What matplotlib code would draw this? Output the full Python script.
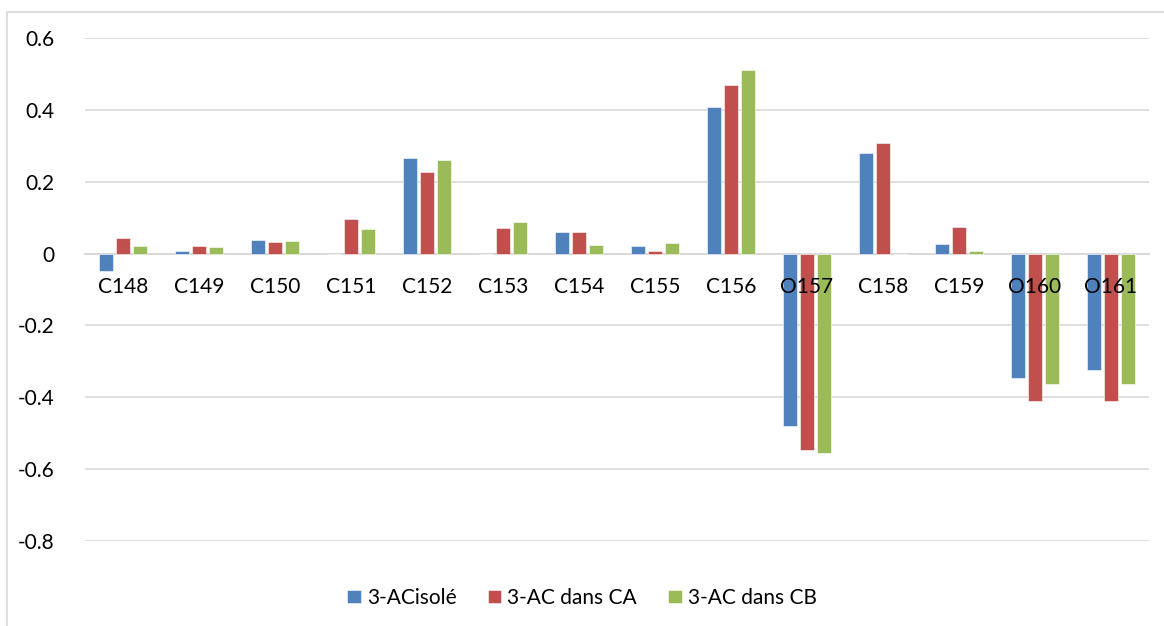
import matplotlib.pyplot as plt
import matplotlib.patches as patches
import numpy as np

atoms = ["C148", "C149", "C150", "C151", "C152", "C153", "C154",
         "C155", "C156", "O157", "C158", "C159", "O160", "O161"]
isole = [-0.049, 0.008, 0.037, 0.0, 0.265, 0.0, 0.061,
         0.021, 0.407, -0.481, 0.280, 0.027, -0.345, -0.324]
dans_ca = [0.042, 0.021, 0.031, 0.096, 0.226, 0.072, 0.061,
           0.006, 0.469, -0.546, 0.307, 0.075, -0.411, -0.409]
dans_cb = [0.021, 0.017, 0.036, 0.069, 0.261, 0.087, 0.023,
           0.029, 0.510, -0.556, 0.0, 0.008, -0.363, -0.363]
series = ["3-ACisolé", "3-AC dans CA", "3-AC dans CB"]
colors = ["#4F81BD", "#C0504D", "#9BBB59"]

plt.rcParams['font.family'] = ['Lato', 'DejaVu Sans']
plt.rcParams['font.size'] = 15

fig = plt.figure(figsize=(11.64, 6.26), dpi=100)
ax = fig.add_axes([0.073, 0.1358, 0.9141, 0.8035])

# light chart frame
fig.patches.append(patches.Rectangle((7 / 1164, -0.1), 1.2, 1 - 12 / 626 + 0.1,
                                     transform=fig.transFigure, fill=False,
                                     edgecolor="#D9D9D9", linewidth=1.2))

x = np.arange(len(atoms))
w = 0.185
step = 0.222
for i, (vals, name, c) in enumerate(zip([isole, dans_ca, dans_cb], series, colors)):
    ax.bar(x + (i - 1) * step, vals, w, color=c, label=name,
           edgecolor="white", linewidth=0.4, zorder=3)

ax.set_xlim(-0.5, len(atoms) - 0.5)
ax.set_ylim(-0.8, 0.6)
yt = [0.6, 0.4, 0.2, 0, -0.2, -0.4, -0.6, -0.8]
ax.set_yticks(yt)
ax.set_yticklabels(["{:g}".format(v) for v in yt])
ax.grid(axis="y", color="#D9D9D9", linewidth=1.2, zorder=0)

ax.set_xticks(x)
ax.set_xticklabels(atoms)
ax.xaxis.set_zorder(5)  # category names sit on top of the negative bars
ax.spines['bottom'].set_position(('data', 0))
ax.spines['bottom'].set_color("#D9D9D9")
ax.spines['bottom'].set_linewidth(1.4)
ax.spines['bottom'].set_zorder(2)
for s in ['top', 'right', 'left']:
    ax.spines[s].set_visible(False)
ax.tick_params(axis='x', length=0, pad=17)
ax.tick_params(axis='y', length=0, pad=22)

fig.legend(loc="center", bbox_to_anchor=(0.5, 0.045), ncol=3, frameon=False,
           handlelength=0.65, handleheight=0.65, handletextpad=0.3,
           columnspacing=1.5)

plt.savefig("out.png", dpi=100)
